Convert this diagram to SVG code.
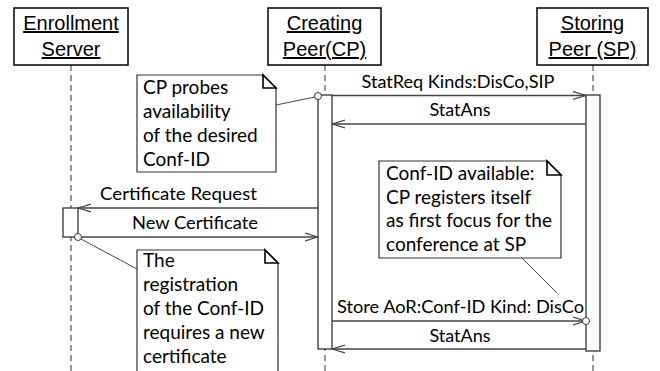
<svg xmlns="http://www.w3.org/2000/svg" width="660" height="371" viewBox="0 0 660 371">
<style>
.hdr{fill:#fff;stroke:#000;stroke-width:1.5}
.ht{font-family:"Liberation Sans",Arial,sans-serif;font-size:20px;fill:#000;text-anchor:middle;text-decoration:underline}
.life{stroke:#555;stroke-width:1.2;stroke-dasharray:6,4;fill:none}
.act{fill:#fff;stroke:#333;stroke-width:1.3}
.msg{stroke:#444;stroke-width:1.3;fill:none}
.lbl{font-family:Lato,"Open Sans",sans-serif;font-size:18px;fill:#000;text-anchor:middle}
.note{fill:#fff;stroke:#333;stroke-width:1.2}
.fold{fill:#fff;stroke:#000;stroke-width:1.6}
.nt{font-family:Lato,"Open Sans",sans-serif;font-size:19px;fill:#000}
.anc{stroke:#333;stroke-width:0.9;fill:none}
.dot{fill:#fff;stroke:#333;stroke-width:1}
</style>
<defs>
<marker id="open" viewBox="0 0 14 10" refX="13" refY="5" markerWidth="14" markerHeight="10" markerUnits="userSpaceOnUse" orient="auto">
<path d="M0,1 L13,5 L0,9" fill="none" stroke="#444" stroke-width="1.2"/>
</marker>
</defs>

<g id="enrollment-server">
<line class="life" x1="71" y1="65" x2="71" y2="371"/>
<rect class="hdr" x="14" y="8" width="114" height="57"/>
<text class="ht" x="71" y="30">Enrollment</text>
<text class="ht" x="71" y="56">Server</text>
<rect class="act" x="63" y="208" width="15" height="29"/>
</g>

<g id="creating-peer">
<line class="life" x1="325" y1="65" x2="325" y2="371"/>
<rect class="hdr" x="268" y="8" width="113" height="57"/>
<text class="ht" x="324.5" y="30">Creating</text>
<text class="ht" x="324.5" y="56">Peer(CP)</text>
<rect class="act" x="318" y="95" width="14" height="254"/>
</g>

<g id="storing-peer">
<line class="life" x1="593" y1="65" x2="593" y2="371"/>
<rect class="hdr" x="537" y="8" width="111" height="57"/>
<text class="ht" x="592.5" y="30">Storing</text>
<text class="ht" x="592.5" y="56">Peer (SP)</text>
<rect class="act" x="586" y="95" width="14" height="256"/>
</g>

<g id="connectors">
<line class="msg" x1="332" y1="95.5" x2="586" y2="95.5" marker-end="url(#open)"/>
<text class="lbl" x="458" y="88" textLength="193" lengthAdjust="spacingAndGlyphs">StatReq Kinds:DisCo,SIP</text>
<line class="msg" x1="586" y1="124" x2="332" y2="124" marker-end="url(#open)"/>
<text class="lbl" x="460" y="116" textLength="61" lengthAdjust="spacingAndGlyphs">StatAns</text>
<line class="msg" x1="318" y1="208" x2="78" y2="208" marker-end="url(#open)"/>
<text class="lbl" x="178.5" y="200" textLength="157" lengthAdjust="spacingAndGlyphs">Certificate Request</text>
<line class="msg" x1="78" y1="237" x2="318" y2="237" marker-end="url(#open)"/>
<text class="lbl" x="195" y="229" textLength="126" lengthAdjust="spacingAndGlyphs">New Certificate</text>
<line class="msg" x1="332" y1="321" x2="586" y2="321" marker-end="url(#open)"/>
<text class="lbl" x="460.5" y="313" textLength="247" lengthAdjust="spacingAndGlyphs">Store AoR:Conf-ID Kind: DisCo</text>
<line class="msg" x1="586" y1="349" x2="332" y2="349" marker-end="url(#open)"/>
<text class="lbl" x="460" y="342" textLength="61" lengthAdjust="spacingAndGlyphs">StatAns</text>
<line class="anc" x1="276" y1="105" x2="315" y2="97"/>
<line class="anc" x1="80" y1="238.5" x2="137" y2="269"/>
<line class="anc" x1="522" y1="258" x2="557" y2="293"/>
<circle class="dot" cx="318" cy="96" r="3.5"/>
<circle class="dot" cx="78" cy="237" r="3.5"/>
<circle class="dot" cx="586" cy="321" r="3.5"/>
</g>

<g id="note-probe">
<path class="note" d="M137,75 H263 L276,88 V172 H137 Z"/>
<path class="fold" d="M263,75 V88 H276 Z"/>
<text class="nt" x="143" y="94">CP probes</text>
<text class="nt" x="143" y="118">availability</text>
<text class="nt" x="143" y="142">of the desired</text>
<text class="nt" x="143" y="166">Conf-ID</text>
</g>

<g id="note-registration">
<path class="note" d="M137,250 H265 L278,263 V375 H137 Z"/>
<path class="fold" d="M265,250 V263 H278 Z"/>
<text class="nt" x="143" y="267">The</text>
<text class="nt" x="143" y="291">registration</text>
<text class="nt" x="143" y="315">of the Conf-ID</text>
<text class="nt" x="143" y="339">requires a new</text>
<text class="nt" x="143" y="363">certificate</text>
</g>

<g id="note-available">
<path class="note" d="M379,161 H547 L561,175 V258 H379 Z"/>
<path class="fold" d="M547,161 V175 H561 Z"/>
<text class="nt" x="386" y="180">Conf-ID available:</text>
<text class="nt" x="386" y="204">CP registers itself</text>
<text class="nt" x="386" y="227">as first focus for the</text>
<text class="nt" x="386" y="251">conference at SP</text>
</g>
</svg>
